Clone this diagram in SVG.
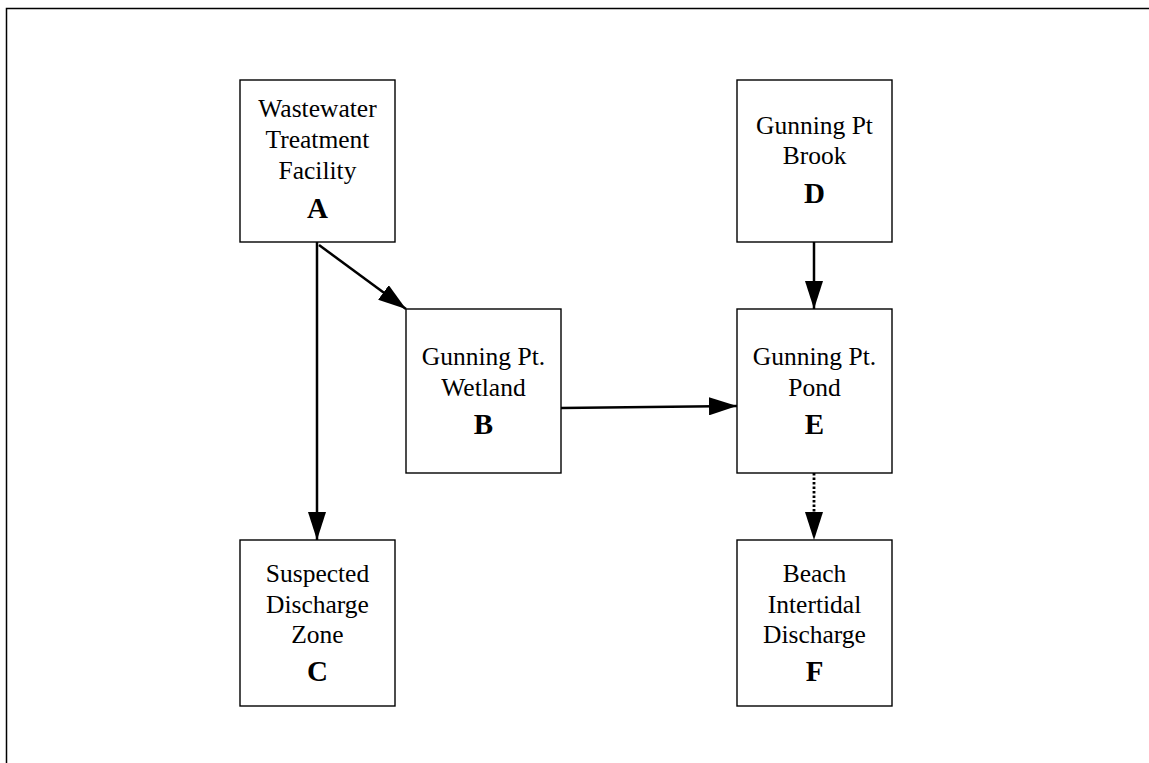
<svg xmlns="http://www.w3.org/2000/svg" width="1149" height="763" viewBox="0 0 1149 763">
<style>
.box{fill:#fff;stroke:#000;stroke-width:1.4}
.t{font-family:"Liberation Serif","Times New Roman",serif;font-size:25.5px;text-anchor:middle;fill:#000}
.b{font-family:"Liberation Serif","Times New Roman",serif;font-size:29px;font-weight:bold;text-anchor:middle;fill:#000}
.c{stroke:#000;stroke-width:2.5;fill:none}
.d{stroke:#000;stroke-width:2.8;fill:none;stroke-dasharray:2.5 2}
</style>
<defs>
<marker id="ah" markerUnits="userSpaceOnUse" markerWidth="29" markerHeight="18" refX="28" refY="9" orient="auto">
<path d="M0,0 L28,9 L0,18 Z" fill="#000"/>
</marker>
</defs>
<rect width="1149" height="763" fill="#fff"/>
<path d="M6.5,763 V8.5 H1149" fill="none" stroke="#000" stroke-width="1.5"/>
<g id="connectors">
<path class="c" d="M317,242 V540" marker-end="url(#ah)"/>
<path class="c" d="M319,245 L406,309" marker-end="url(#ah)"/>
<path class="c" d="M561,408 L737,406" marker-end="url(#ah)"/>
<path class="c" d="M814,242 V309" marker-end="url(#ah)"/>
<path class="d" d="M814,473 V514"/>
<path d="M814,512 V540" fill="none" stroke="none" marker-end="url(#ah)"/>
</g>
<g id="nodeA">
<rect class="box" x="240" y="80" width="155" height="162"/>
<text class="t" x="317.5" y="117">Wastewater</text>
<text class="t" x="317.5" y="148">Treatment</text>
<text class="t" x="317.5" y="179">Facility</text>
<text class="b" x="317.5" y="218">A</text>
</g>
<g id="nodeB">
<rect class="box" x="406" y="309" width="155" height="164"/>
<text class="t" x="483.5" y="365">Gunning Pt.</text>
<text class="t" x="483.5" y="396">Wetland</text>
<text class="b" x="483.5" y="434">B</text>
</g>
<g id="nodeC">
<rect class="box" x="240" y="540" width="155" height="166"/>
<text class="t" x="317.5" y="582">Suspected</text>
<text class="t" x="317.5" y="613">Discharge</text>
<text class="t" x="317.5" y="643">Zone</text>
<text class="b" x="317.5" y="681">C</text>
</g>
<g id="nodeD">
<rect class="box" x="737" y="80" width="155" height="162"/>
<text class="t" x="814.5" y="134">Gunning Pt</text>
<text class="t" x="814.5" y="164">Brook</text>
<text class="b" x="814.5" y="203">D</text>
</g>
<g id="nodeE">
<rect class="box" x="737" y="309" width="155" height="164"/>
<text class="t" x="814.5" y="365">Gunning Pt.</text>
<text class="t" x="814.5" y="396">Pond</text>
<text class="b" x="814.5" y="434">E</text>
</g>
<g id="nodeF">
<rect class="box" x="737" y="540" width="155" height="166"/>
<text class="t" x="814.5" y="582">Beach</text>
<text class="t" x="814.5" y="613">Intertidal</text>
<text class="t" x="814.5" y="643">Discharge</text>
<text class="b" x="814.5" y="681">F</text>
</g>
</svg>
